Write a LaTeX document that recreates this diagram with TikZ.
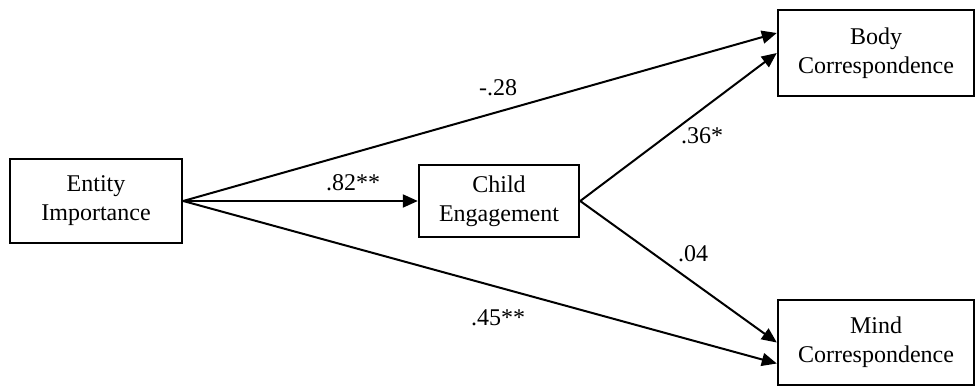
\documentclass[tikz,border=0pt]{standalone}
\usepackage{fontspec}
\setmainfont{Liberation Serif}
\usetikzlibrary{arrows.meta, positioning, calc}

\begin{document}
\begin{tikzpicture}[x=0.5pt, y=-0.5pt, font=\fontsize{12}{14.6}\selectfont,
    box/.style={draw, line width=1.2pt, align=center, inner sep=0pt},
    link/.style={line width=1pt, -{Triangle[length=7.5pt, width=6.5pt]}},
    coef/.style={inner sep=1pt}]

\useasboundingbox (0,0) rectangle (975,386);

% cajas
\node[box, minimum width=86pt, minimum height=42pt] (entity) at (96,201) {Entity\\Importance};
\node[box, minimum width=80pt, minimum height=36pt] (child) at (499,201) {Child\\Engagement};
\node[box, minimum width=98pt, minimum height=43pt] (body) at (876,53) {Body\\Correspondence};
\node[box, minimum width=98pt, minimum height=42.5pt] (mind) at (876,342.5) {Mind\\Correspondence};

% rutas
\draw[link] (entity.east) -- (child.west);
\draw[link] (entity.east) -- ([yshift=10pt]body.west);
\draw[link] (entity.east) -- ([yshift=-10.5pt]mind.west);
\draw[link] (child.east) -- (body.west);
\draw[link] (child.east) -- (mind.west);

% coeficientes
\node[coef] (c82) at (353,183) {.82**};
\node[coef] (c28) at (498,88) {-.28};
\node[coef] (c45) at (498,318) {.45**};
\node[coef] (c36) at (702,136) {.36*};
\node[coef] (c04) at (693,254) {.04};

\end{tikzpicture}
\end{document}
